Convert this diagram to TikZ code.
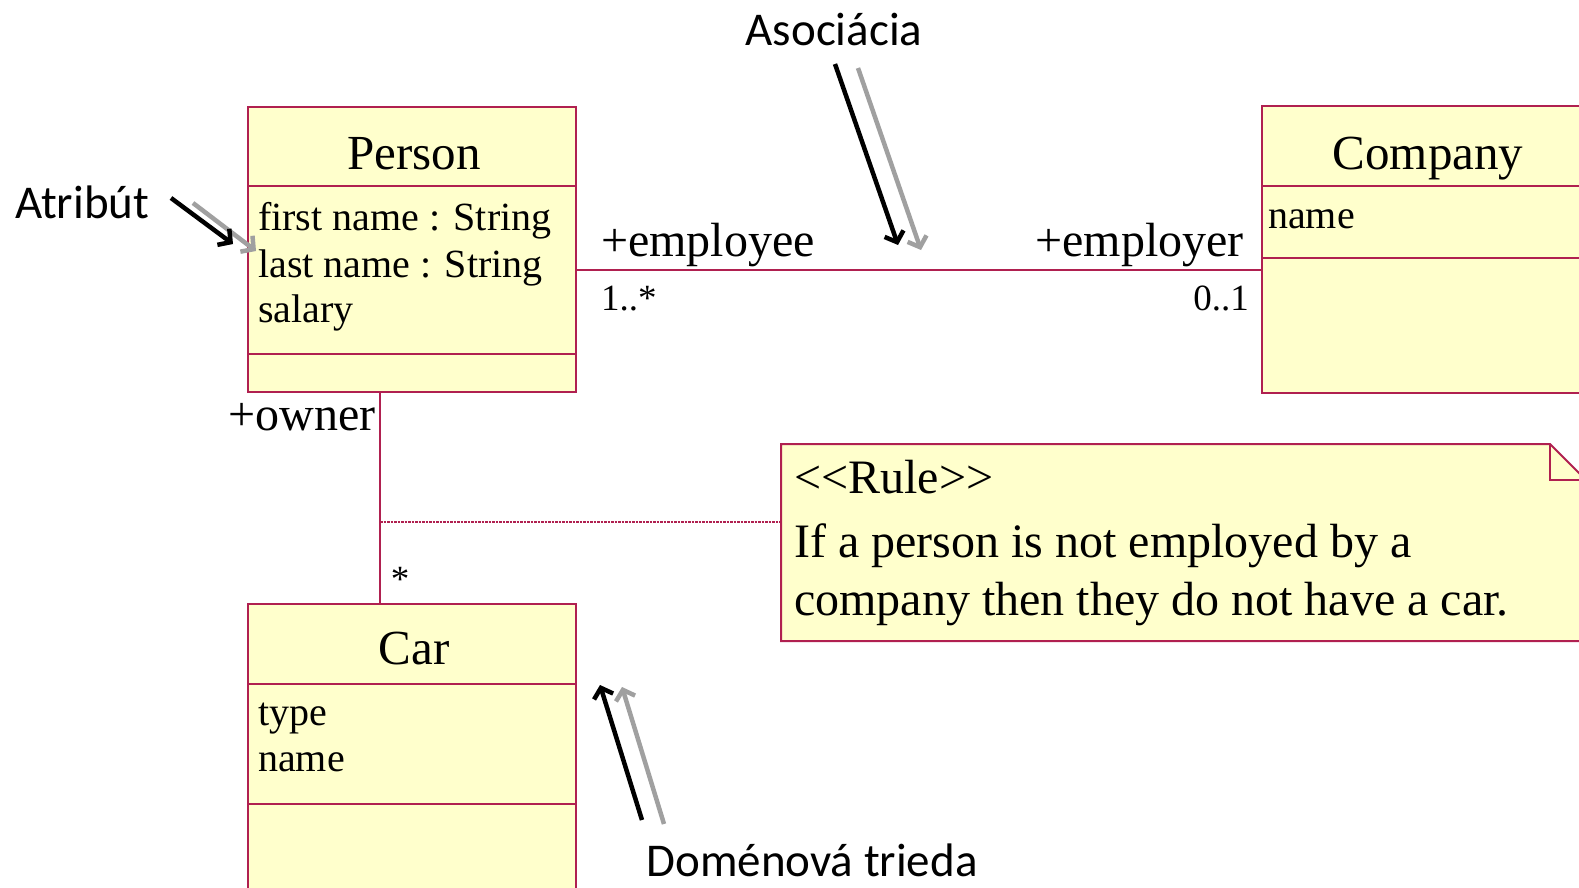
\documentclass[tikz,border=0pt]{standalone}
\usepackage{fontspec}
\setmainfont{Liberation Serif}
\newfontfamily\annfont{Carlito}
\usetikzlibrary{arrows.meta}
\definecolor{umlfill}{RGB}{255,255,204}
\definecolor{umlline}{RGB}{176,32,80}
\definecolor{arrgray}{RGB}{160,160,160}
\begin{document}
\begin{tikzpicture}[x=1pt,y=-1pt,
 umlbox/.style={draw=umlline, fill=umlfill, line width=2pt, rectangle, inner sep=0pt, outer sep=0pt, anchor=north west},
 divider/.style={draw=umlline, line width=2pt},
 cname/.style={font=\fontsize{49}{59}\selectfont, inner sep=0pt, anchor=base},
 attr/.style={font=\fontsize{40}{48}\selectfont, anchor=base west, inner sep=0pt},
 role/.style={font=\fontsize{48}{58}\selectfont, inner sep=0pt},
 mult/.style={font=\fontsize{37}{44}\selectfont, inner sep=0pt},
 notetext/.style={font=\fontsize{48}{58}\selectfont, inner sep=0pt, anchor=base west},
 assoc/.style={draw=umlline, line width=2pt},
 anchorline/.style={draw=umlline, line width=1.5pt, dash pattern=on 2.5pt off 1pt},
 ann/.style={font=\annfont\fontsize{47}{56}\selectfont, inner sep=0pt},
 blackarr/.style={draw=black, line width=4.5pt, -{Straight Barb[length=9pt,width=20pt]}},
 grayarr/.style={draw=arrgray, line width=4.5pt, -{Straight Barb[length=9pt,width=20pt]}}
]
\useasboundingbox (0,0) rectangle (1579,888);
\fill[white] (0,0) rectangle (1579,888);
\clip (0,0) rectangle (1579,888);

% Person
\node[umlbox, minimum width=328pt, minimum height=285pt] (person) at (248,107) {};
\draw[divider] (248,186) -- (576,186);
\draw[divider] (248,354) -- (576,354);
\node[cname] (pname) at (414,169) {Person};
\node[attr] (pa1) at (258,230) {first name : String};
\node[attr] (pa2) at (258,277) {last name : String};
\node[attr] (pa3) at (258,322) {salary};

% Company
\node[umlbox, minimum width=360pt, minimum height=287pt] (company) at (1262,106) {};
\draw[divider] (1262,186) -- (1622,186);
\draw[divider] (1262,258) -- (1622,258);
\node[cname] (cname) at (1428,169) {Company};
\node[attr] (ca1) at (1268,228) {name};

% Car
\node[umlbox, minimum width=328pt, minimum height=330pt] (car) at (248,604) {};
\draw[divider] (248,684) -- (576,684);
\draw[divider] (248,804) -- (576,804);
\node[cname] (carname) at (414,664) {Car};
\node[attr] (ka1) at (258,725) {type};
\node[attr] (ka2) at (258,771) {name};

% Note
\node[minimum width=805pt, minimum height=197pt, inner sep=0pt, outer sep=0pt, anchor=north west] (note) at (781,444) {};
\filldraw[draw=umlline, fill=umlfill, line width=2pt] (note.north west) -- (1550,444) -- (1586,480) -- (1586,641) -- (note.south west) -- cycle;
\draw[umlline, line width=2pt] (1550,444) -- (1550,480) -- (1586,480);
\node[notetext] (n1) at (794,493) {<{}<Rule>{}>};
\node[notetext] (n2) at (794,557) {If a person is not employed by a};
\node[notetext] (n3) at (794,615) {company then they do not have a car.};

% Associations
\draw[assoc] ([yshift=-20.5pt]person.east) -- ([yshift=-20.5pt]company.west);
\node[role, anchor=base west] (remp) at (601,256) {+employee};
\node[role, anchor=base east] (remr) at (1244,256) {+employer};
\node[mult, anchor=base west] (m1) at (601,310) {1..*};
\node[mult, anchor=base east] (m2) at (1249,310) {0..1};

\draw[assoc] ([xshift=-32pt]person.south) -- ([xshift=-32pt]car.north);
\node[role, anchor=base east] (rown) at (376,430) {+owner};
\node[mult] (m3) at (400,579) {*};
\coordinate (om) at (380,522);
\draw[anchorline] (om) -- (om -| note.west);

% Annotations
\node[ann] (asoc) at (834,30) {Asociácia};
\node[ann, anchor=west] (atr) at (15,202) {Atribút};
\node[ann] (dom) at (812,860) {Doménová trieda};

\coordinate (asb) at (835,64);  \coordinate (ase) at (898,245);
\coordinate (asgb) at (858,68); \coordinate (asge) at (921,250);
\draw[grayarr] (asgb) -- (asge);
\draw[blackarr] (asb) -- (ase);

\coordinate (atb) at (171,198);  \coordinate (ate) at (233,244);
\coordinate (atgb) at (193,203); \coordinate (atge) at (256,251);
\draw[grayarr] (atgb) -- (atge);
\draw[blackarr] (atb) -- (ate);

\coordinate (dob) at (642,820);  \coordinate (doe) at (600,685);
\coordinate (dogb) at (664,824); \coordinate (doge) at (622,687);
\draw[grayarr] (dogb) -- (doge);
\draw[blackarr] (dob) -- (doe);
\end{tikzpicture}
\end{document}
